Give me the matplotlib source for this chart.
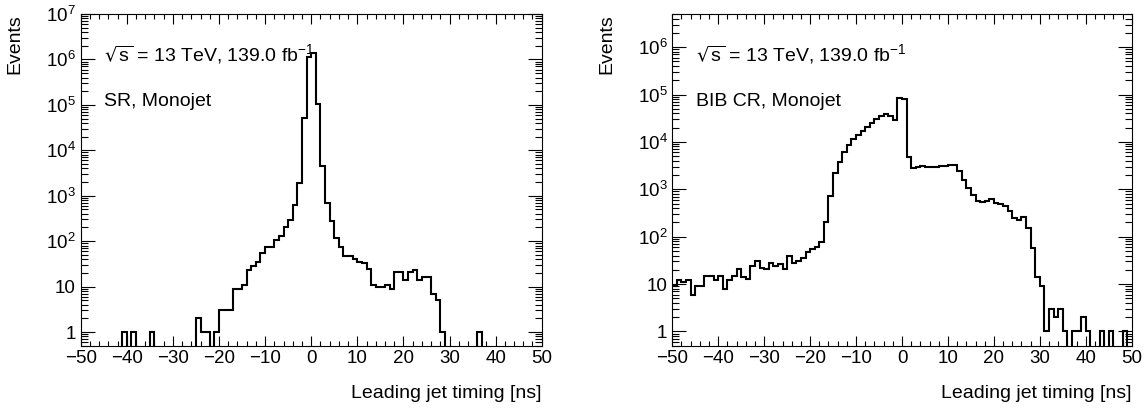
import numpy as np
import matplotlib
matplotlib.use("Agg")
import matplotlib.pyplot as plt
from matplotlib.ticker import MultipleLocator, LogLocator, FixedLocator, FuncFormatter, NullFormatter

# --- Data: 1 ns bins from -50 to 50 ns ---
bin_edges = np.arange(-50, 51, 1)

sr_counts = [
    0, 0, 0, 0, 0, 0, 0, 0, 0, 1,
    0, 1, 0, 0, 0, 1, 0, 0, 0, 0,
    0, 0, 0, 0, 0, 2, 1, 1, 0, 1,
    3, 3, 3, 9, 9, 11, 23, 28, 35, 55,
    76, 74, 107, 129, 210, 290, 613, 1870, 52000, 1120000,
    1400000, 107000, 4400, 703, 280, 119, 74, 47, 46, 40,
    34, 33, 24, 11, 10, 10, 11, 9, 21, 21,
    14, 21, 23, 14, 16, 16, 7, 5, 1, 0,
    0, 0, 0, 0, 0, 0, 1, 0, 0, 0,
    0, 0, 0, 0, 0, 0, 0, 0, 0, 0,
]

bib_counts = [
    9, 12, 11, 12, 6, 9, 9, 15, 15, 12,
    15, 8, 12, 15, 21, 14, 13, 24, 31, 22,
    21, 28, 24, 27, 21, 39, 28, 31, 36, 47,
    55, 61, 77, 206, 710, 2160, 3800, 6200, 8600, 11300,
    13900, 17000, 21000, 25000, 30700, 35000, 38600, 35000, 28800, 85000,
    78700, 4850, 2760, 2990, 3080, 2990, 2990, 3000, 3080, 3150,
    3200, 3200, 2420, 1560, 1040, 755, 573, 529, 573, 611,
    520, 487, 449, 352, 243, 224, 255, 150, 57, 14,
    9, 1, 3, 2, 3, 1, 0, 1, 1, 2,
    1, 0, 0, 1, 0, 1, 0, 0, 1, 0,
]

lumi_text = r"$\sqrt{s}$ = 13 TeV, 139.0 fb$^{-1}$"
region_labels = ["SR, Monojet", "BIB CR, Monojet"]
y_max = [1e7, 5e6]
y_min = 0.5

plt.rcParams["font.family"] = ["Liberation Sans", "DejaVu Sans"]
plt.rcParams["mathtext.default"] = "regular"
plt.rcParams["axes.linewidth"] = 0.8


def log_label(val, pos):
    exp = int(round(np.log10(val)))
    if exp == 0:
        return "1"
    if exp == 1:
        return "10"
    return "$10^{%d}$" % exp


def draw_panel(ax, counts, ymax, region):
    counts = np.asarray(counts, dtype=float)
    # empty bins sit below the axis so the step drops to the bottom, like ROOT
    shown = np.where(counts > 0, counts, 1e-3)
    ax.stairs(shown, bin_edges, baseline=None, color="black", linewidth=1.5)

    ax.set_yscale("log")
    ax.set_xlim(-50, 50)
    ax.set_ylim(y_min, ymax)

    ax.xaxis.set_major_locator(FixedLocator(np.arange(-50, 51, 10)))
    ax.xaxis.set_minor_locator(MultipleLocator(2))
    # only the decades inside the y range get a labelled tick
    decades = 10.0 ** np.arange(0, int(np.floor(np.log10(ymax))) + 1)
    ax.yaxis.set_major_locator(FixedLocator(decades))
    ax.yaxis.set_minor_locator(LogLocator(base=10, subs=np.arange(2, 10), numticks=20))
    ax.yaxis.set_major_formatter(FuncFormatter(log_label))
    ax.yaxis.set_minor_formatter(NullFormatter())

    ax.tick_params(which="both", direction="in", top=True, right=True, width=0.8, labelsize=13.5)
    ax.tick_params(axis="x", which="major", length=7, pad=3)
    ax.tick_params(axis="x", which="minor", length=3.5)
    ax.tick_params(axis="y", which="major", length=10, pad=3.5)
    ax.tick_params(axis="y", which="minor", length=5)

    # axis titles placed ROOT-style: x title at the right end, y title at the top
    ax.text(1.0, -0.1586, "Leading jet timing [ns]", transform=ax.transAxes,
            fontsize=14, ha="right", va="baseline")
    ax.text(-0.142, 1.0, "Events", transform=ax.transAxes, fontsize=14,
            rotation=90, ha="center", va="top")

    ax.text(0.051, 0.859, lumi_text, transform=ax.transAxes, fontsize=14, va="baseline")
    ax.text(0.051, 0.7226, region, transform=ax.transAxes, fontsize=14, va="baseline")


fig = plt.figure(figsize=(11.48, 4.08), dpi=100)
ax_sr = fig.add_axes([80.7 / 1148, 1 - 345.7 / 408, 461.0 / 1148, 331.7 / 408])
ax_bib = fig.add_axes([672.3 / 1148, 1 - 345.7 / 408, 459.4 / 1148, 331.7 / 408])

draw_panel(ax_sr, sr_counts, y_max[0], region_labels[0])
draw_panel(ax_bib, bib_counts, y_max[1], region_labels[1])

fig.savefig("out.png", dpi=100)
